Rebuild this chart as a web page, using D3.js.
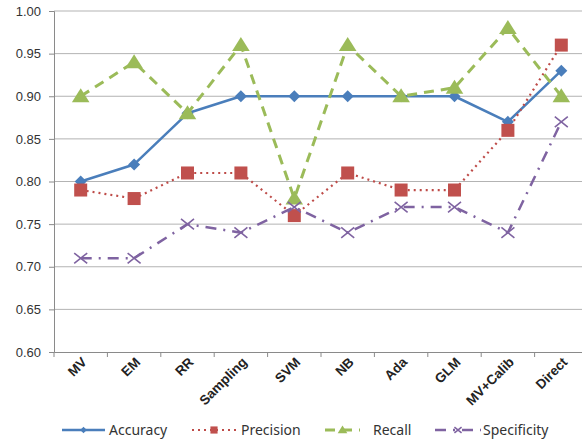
<!DOCTYPE html>
<html><head><meta charset="utf-8">
<script src="https://cdn.jsdelivr.net/npm/d3@7"></script>
<style>body{margin:0;background:#fff;} svg{display:block;font-family:"Noto Sans","Noto Sans CJK KR",sans-serif;}</style>
</head><body>
<svg id="c" width="582" height="443"></svg>
<script>
const categories = ["MV","EM","RR","Sampling","SVM","NB","Ada","GLM","MV+Calib","Direct"];
const accuracy    = [0.80,0.82,0.88,0.90,0.90,0.90,0.90,0.90,0.87,0.93];
const precision   = [0.79,0.78,0.81,0.81,0.76,0.81,0.79,0.79,0.86,0.96];
const recall      = [0.90,0.94,0.88,0.96,0.78,0.96,0.90,0.91,0.98,0.90];
const specificity = [0.71,0.71,0.75,0.74,0.77,0.74,0.77,0.77,0.74,0.87];
const yTicks = [0.60,0.65,0.70,0.75,0.80,0.85,0.90,0.95,1.00];

const series = [
  {name:"Accuracy", values:accuracy, color:"#4A7EBB", dash:null, width:2.5, marker:"diamond", mcolor:"#4A7EBB"},
  {name:"Precision", values:precision, color:"#BE4B48", dash:"2,4", width:2.2, marker:"square", mcolor:"#C0504D"},
  {name:"Recall", values:recall, color:"#9BBB59", dash:"10,7", width:3, marker:"triangle", mcolor:"#9BBB59"},
  {name:"Specificity", values:specificity, color:"#7F63A1", dash:"11,7,2,7", width:2.5, marker:"x", mcolor:"#7F63A1"}
];

const svg = d3.select("#c");
const mLeft = 54, mRight = 588, mTop = 11, mBottom = 352;
const x = d3.scaleBand().domain(categories).range([mLeft, mRight]);
const y = d3.scaleLinear().domain([0.6, 1.0]).range([mBottom, mTop]);
const cx = c => x(c) + x.bandwidth()/2;

// gridlines
svg.append("g").selectAll("line").data(yTicks.slice(1)).join("line")
  .attr("x1", mLeft).attr("x2", 582).attr("y1", d=>y(d)).attr("y2", d=>y(d))
  .attr("stroke", "#b3b3b3").attr("stroke-width", 1);

// y axis
const ya = svg.append("g").attr("transform", `translate(${mLeft},0)`)
  .call(d3.axisLeft(y).tickValues(yTicks).tickFormat(d3.format(".2f")).tickSize(5).tickPadding(8));
ya.select(".domain").attr("stroke", "#8a8a8a");
ya.selectAll(".tick line").attr("stroke", "#8a8a8a");
ya.selectAll("text").attr("font-size", 13).attr("fill", "#333");

// x axis
const xa = svg.append("g").attr("transform", `translate(0,${mBottom})`)
  .call(d3.axisBottom(x).tickSize(0).tickSizeOuter(0));
xa.select(".domain").attr("stroke", "#8a8a8a");
xa.selectAll(".tick line").remove();
xa.selectAll(".tick text")
  .attr("font-size", 13.5).attr("font-weight", "bold").attr("fill", "#222")
  .attr("text-anchor", "end").attr("dy", null).attr("y", 0)
  .attr("transform", "translate(7,11) rotate(-45)");
// category boundary ticks
svg.append("g").selectAll("line").data(categories).join("line")
  .attr("x1", d=>x(d)).attr("x2", d=>x(d)).attr("y1", mBottom).attr("y2", mBottom+5)
  .attr("stroke", "#8a8a8a");

function drawMarker(g, type, color, px, py, s) {
  if (type === "diamond") {
    g.append("path").attr("d", `M${px},${py-s}L${px+s},${py}L${px},${py+s}L${px-s},${py}Z`).attr("fill", color);
  } else if (type === "square") {
    g.append("rect").attr("x", px-s).attr("y", py-s).attr("width", 2*s).attr("height", 2*s).attr("fill", color);
  } else if (type === "triangle") {
    g.append("path").attr("d", `M${px},${py-s*1.0}L${px+s*1.1},${py+s*0.75}L${px-s*1.1},${py+s*0.75}Z`).attr("fill", color);
  } else if (type === "x") {
    g.append("path").attr("d", `M${px-s},${py-s*0.8}L${px+s},${py+s*0.8}M${px+s},${py-s*0.8}L${px-s},${py+s*0.8}`)
      .attr("stroke", color).attr("stroke-width", 1.6).attr("fill", "none");
  }
}
const msize = {diamond:6, square:6.5, triangle:8, x:6.5};

const line = d3.line().x((d,i)=>cx(categories[i])).y(d=>y(d));
series.forEach(s => {
  const g = svg.append("g");
  g.append("path").attr("d", line(s.values)).attr("fill", "none")
    .attr("stroke", s.color).attr("stroke-width", s.width)
    .attr("stroke-dasharray", s.dash).attr("stroke-linejoin", "round");
  s.values.forEach((v,i) => drawMarker(g, s.marker, s.mcolor, cx(categories[i]), y(v), msize[s.marker]));
});

// legend
const legendPos = [{x1:62,x2:105,tx:109},{x1:192,x2:236,tx:241},{x1:325,x2:360,tx:373},{x1:435,x2:481,tx:483}];
const ly = 430;
series.forEach((s,i) => {
  const p = legendPos[i];
  const g = svg.append("g");
  g.append("line").attr("x1", p.x1).attr("x2", p.x2).attr("y1", ly).attr("y2", ly)
    .attr("stroke", s.color).attr("stroke-width", s.width).attr("stroke-dasharray", s.dash);
  drawMarker(g, s.marker, s.mcolor, (p.x1+p.x2)/2, ly, msize[s.marker]*0.55);
  g.append("text").attr("x", p.tx).attr("y", ly).attr("dy", "0.35em")
    .attr("font-size", 14).attr("fill", "#333").text(s.name);
});
</script>
</body></html>
